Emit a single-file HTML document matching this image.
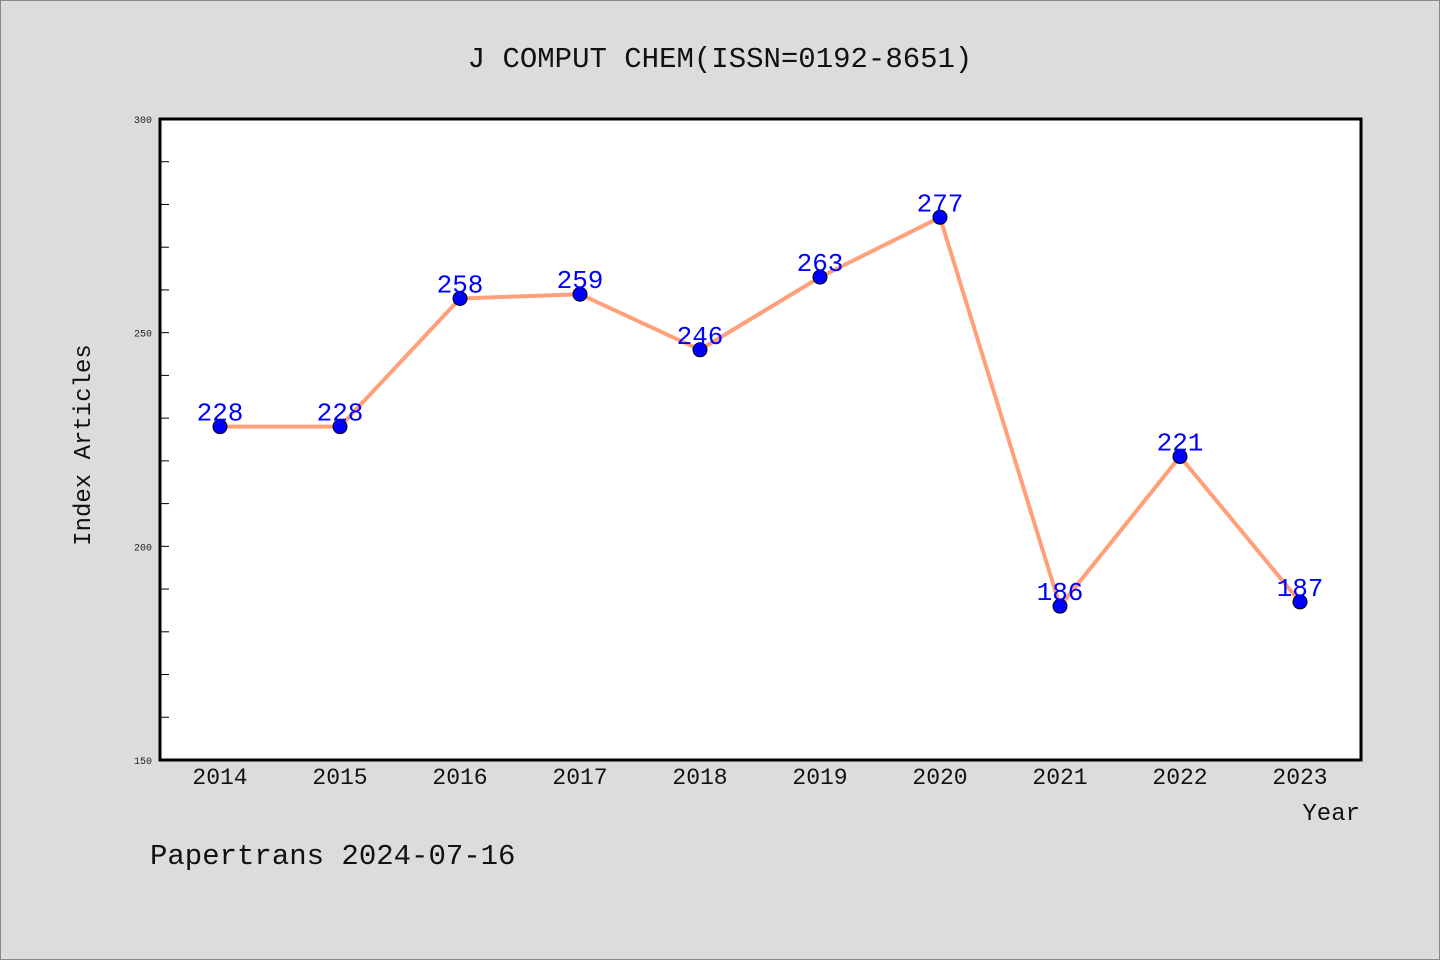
<!DOCTYPE html>
<html><head><meta charset="utf-8"><style>
html,body{margin:0;padding:0;background:#dcdcdc;}
svg{display:block;font-family:"Liberation Mono","DejaVu Sans Mono",monospace;}
</style></head><body>
<svg id="chart" width="1440" height="960" xmlns="http://www.w3.org/2000/svg">
<rect x="0.5" y="0.5" width="1439" height="959" fill="#dcdcdc" stroke="#888"/>
<text x="720" y="67" text-anchor="middle" font-size="29" fill="#111">J COMPUT CHEM(ISSN=0192-8651)</text>
<rect x="160" y="119" width="1201" height="641" fill="#fff"/>
<g id="yticks"></g><g id="xticks"></g>
<polyline id="line" fill="none" stroke="#ffa07a" stroke-width="4"/>
<g id="points"></g>
<rect x="160" y="119" width="1201" height="641" fill="none" stroke="#000" stroke-width="3"/>
<text x="90" y="445" text-anchor="middle" font-size="24" fill="#111" transform="rotate(-90 90 445)">Index Articles</text>
<text x="1360" y="820" text-anchor="end" font-size="24" fill="#111">Year</text>
<text x="150" y="864" font-size="29" fill="#111">Papertrans 2024-07-16</text>
</svg>
<script>
const years = [2014,2015,2016,2017,2018,2019,2020,2021,2022,2023];
const values = [228,228,258,259,246,263,277,186,221,187];
const yTickLabels = [150,200,250,300];
const ns="http://www.w3.org/2000/svg";
const X0=160,X1=1361,Y0=760,Y1=119,YMIN=150,YMAX=300;
function xs(i){return 220+i*(1300-220)/(years.length-1);}
function ys(v){return Y0-(v-YMIN)/(YMAX-YMIN)*(Y0-Y1);}
function mk(t,a){const e=document.createElementNS(ns,t);for(const k in a)e.setAttribute(k,a[k]);return e;}
const yg=document.getElementById('yticks');
for(let v=YMIN;v<=YMAX;v+=10){
  const t=mk('line',{x1:X0,x2:X0+9,y1:ys(v),y2:ys(v),stroke:'#000','stroke-width':1});
  
  
  yg.appendChild(t);
}
yTickLabels.forEach(v=>{
  const t=mk('text',{x:X0-8,y:ys(v)+4,'text-anchor':'end','font-size':10,fill:'#222'});
  
  
  t.textContent=v;yg.appendChild(t);
});
const xg=document.getElementById('xticks');
years.forEach((y,i)=>{
  const t=mk('text',{x:xs(i),y:784,'text-anchor':'middle','font-size':23,fill:'#111'});
  
  
  t.textContent=y;xg.appendChild(t);
});
document.getElementById('line').setAttribute('points',values.map((v,i)=>xs(i)+','+ys(v)).join(' '));
const pg=document.getElementById('points');
values.forEach((v,i)=>{
  const c=mk('circle',{cx:xs(i),cy:ys(v),r:7,fill:'#0000ff',stroke:'#000','stroke-width':1});
  
  
  pg.appendChild(c);
  const t=mk('text',{x:xs(i),y:ys(v)-6,'text-anchor':'middle','font-size':26,fill:'#0000ff'});
  
  
  t.textContent=v;pg.appendChild(t);
});
</script>
</body></html>
